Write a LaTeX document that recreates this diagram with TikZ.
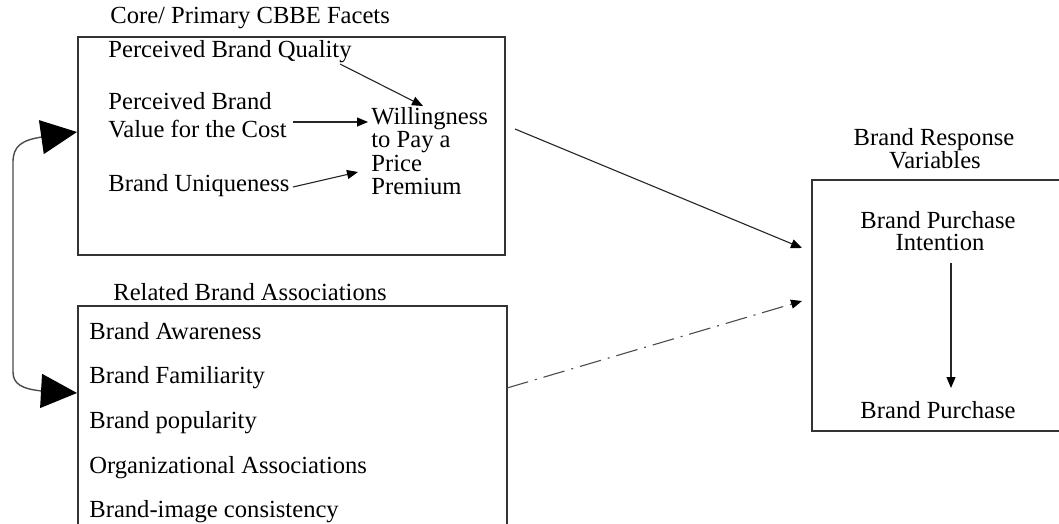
\documentclass[tikz,border=0pt]{standalone}
\usepackage{fontspec}
\setmainfont{Liberation Serif}
\usetikzlibrary{arrows.meta,fit}
\begin{document}
\begin{tikzpicture}[x=0.5pt,y=-0.5pt,
  txt/.style={inner sep=0pt, font=\fontsize{12.3}{14}\selectfont, anchor=base west},
  ctxt/.style={inner sep=0pt, font=\fontsize{12.3}{14}\selectfont, anchor=base},
  box/.style={draw=black!80, line width=0.8pt, inner sep=0pt},
  conn/.style={line width=0.55pt, draw=black!85, -{Triangle[length=5.5pt,width=4.5pt,black]}},
  dashconn/.style={conn, draw=black!70, dash pattern=on 11pt off 3.5pt on 1pt off 3.5pt},
  bigtips/.style={line width=0.7pt, draw=black!70,
    {Triangle[length=18pt,width=17pt,black]}-{Triangle[length=18pt,width=17pt,black]}}]
\clip (0,0) rectangle (1059,524);
\fill[white] (0,0) rectangle (1059,524);

% frames
\node[box, fit={(78,37) (505,255)}] (core) {};
\node[box, fit={(78,306) (507,570)}] (assoc) {};
\node[box, fit={(812,180) (1090,431)}] (resp) {};

% core facets
\node[txt] (coreT) at (110,24) {Core/ Primary CBBE Facets};
\node[txt] (pbq)  at (108,58)  {Perceived Brand Quality};
\node[txt] (pbv1) at (108,110) {Perceived Brand};
\node[txt] (pbv2) at (108,137) {Value for the Cost};
\node[txt] (bu)   at (108,191) {Brand Uniqueness};
\node[txt] (wp1)  at (371,125) {Willingness};
\node[txt] (wp2)  at (371,148) {to Pay a};
\node[txt] (wp3)  at (371,171) {Price};
\node[txt] (wp4)  at (371,194) {Premium};

% related associations
\node[txt] (assocT) at (113,300) {Related Brand Associations};
\node[txt] (aw)  at (89,339) {Brand Awareness};
\node[txt] (fam) at (89,383) {Brand Familiarity};
\node[txt] (pop) at (89,428) {Brand popularity};
\node[txt] (org) at (89,473) {Organizational Associations};
\node[txt] (img) at (89,517) {Brand-image consistency};

% response variables
\node[ctxt] (respT1) at (934,145) {Brand Response};
\node[ctxt] (respT2) at (935,168) {Variables};
\node[ctxt] (bpi1) at (938,228) {Brand Purchase};
\node[ctxt] (bpi2) at (940,250) {Intention};
\node[ctxt] (bp)   at (938,418) {Brand Purchase};

% connector end points
\coordinate (qS) at (340,64);  \coordinate (qE) at (423,106);
\coordinate (vS) at (293,122); \coordinate (vE) at (368,122);
\coordinate (uS) at (293,187); \coordinate (uE) at (358,172);
\coordinate (mS) at (515,129); \coordinate (mE) at (802,248);
\coordinate (dS) at (507,388); \coordinate (dE) at (802,301);
\coordinate (iS) at (951,263); \coordinate (iE) at (951,388);
\coordinate (topTip) at (77,132);
\coordinate (botTip) at (77,393);

\draw[conn] (qS) -- (qE);
\draw[conn] (vS) -- (vE);
\draw[conn] (uS) -- (uE);
\draw[conn] (mS) -- (mE);
\draw[dashconn] (dS) -- (dE);
\draw[conn] (iS) -- (iE);

% two-way link between the left frames
\draw[bigtips] (topTip) -- (42,137) .. controls (22,140) and (13,146) .. (13,162)
  -- (13,372) .. controls (13,384) and (22,389) .. (42,391) -- (botTip);
\end{tikzpicture}
\end{document}
